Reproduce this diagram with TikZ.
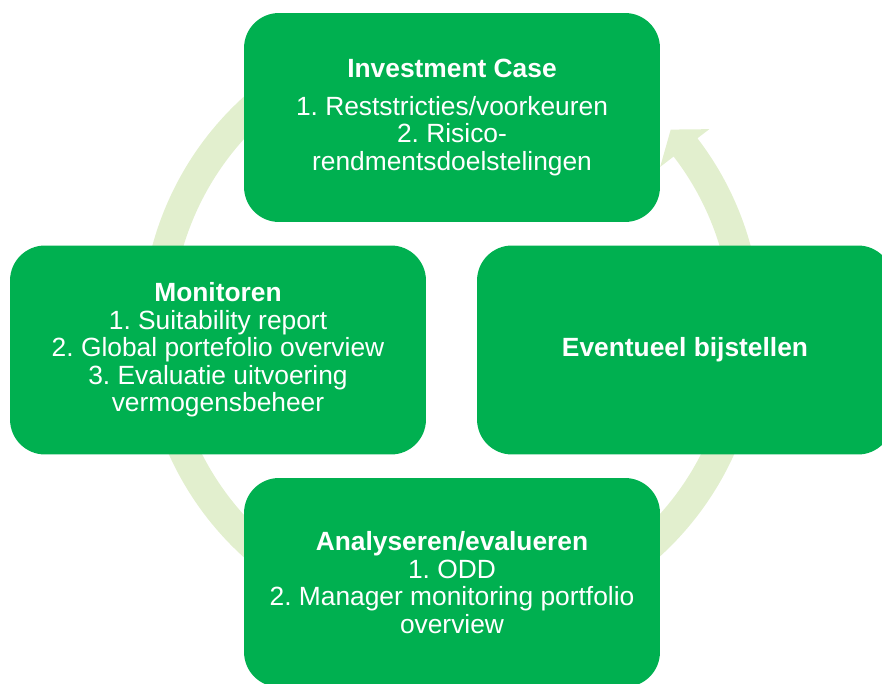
\documentclass[tikz,border=0pt]{standalone}
\usepackage{fontspec}
\setmainfont{Liberation Sans}
\frenchspacing
\definecolor{boxgreen}{RGB}{0,176,80}
\definecolor{ringgreen}{RGB}{226,239,206}
\tikzset{
  stage/.style={fill=boxgreen, text=white, rounded corners=0.7cm,
    minimum width=8.32cm, minimum height=4.18cm, inner sep=0pt,
    align=center, font=\fontsize{15}{15.6}\selectfont}
}
\begin{document}
\begin{tikzpicture}[x=0.02cm,y=0.02cm]
\useasboundingbox (0,0) rectangle (882,683);
% ring with arrow head
\fill[ringgreen, shift={(451.5,356)}] (115:310) arc[start angle=115, end angle=397.5, radius=310]
  -- (37.5:325) -- (42:295) -- (37.5:263) -- (37.5:280)
  arc[start angle=397.5, end angle=115, radius=280] -- cycle;
\node[stage] (invest) at (452,565.5) {\textbf{Investment Case}\\[6pt]1. Reststricties/voorkeuren\\2. Risico-\\rendmentsdoelstelingen};
\node[stage] (monitor) at (218,333) {\textbf{Monitoren}\\1. Suitability report\\2. Global portefolio overview\\3. Evaluatie uitvoering\\vermogensbeheer};
\node[stage] (adjust) at (685,333) {\textbf{Eventueel bijstellen}};
\node[stage] (analyse) at (452,100.5) {\textbf{Analyseren/evalueren}\\1. ODD\\2. Manager monitoring portfolio\\overview};
\end{tikzpicture}
\end{document}
